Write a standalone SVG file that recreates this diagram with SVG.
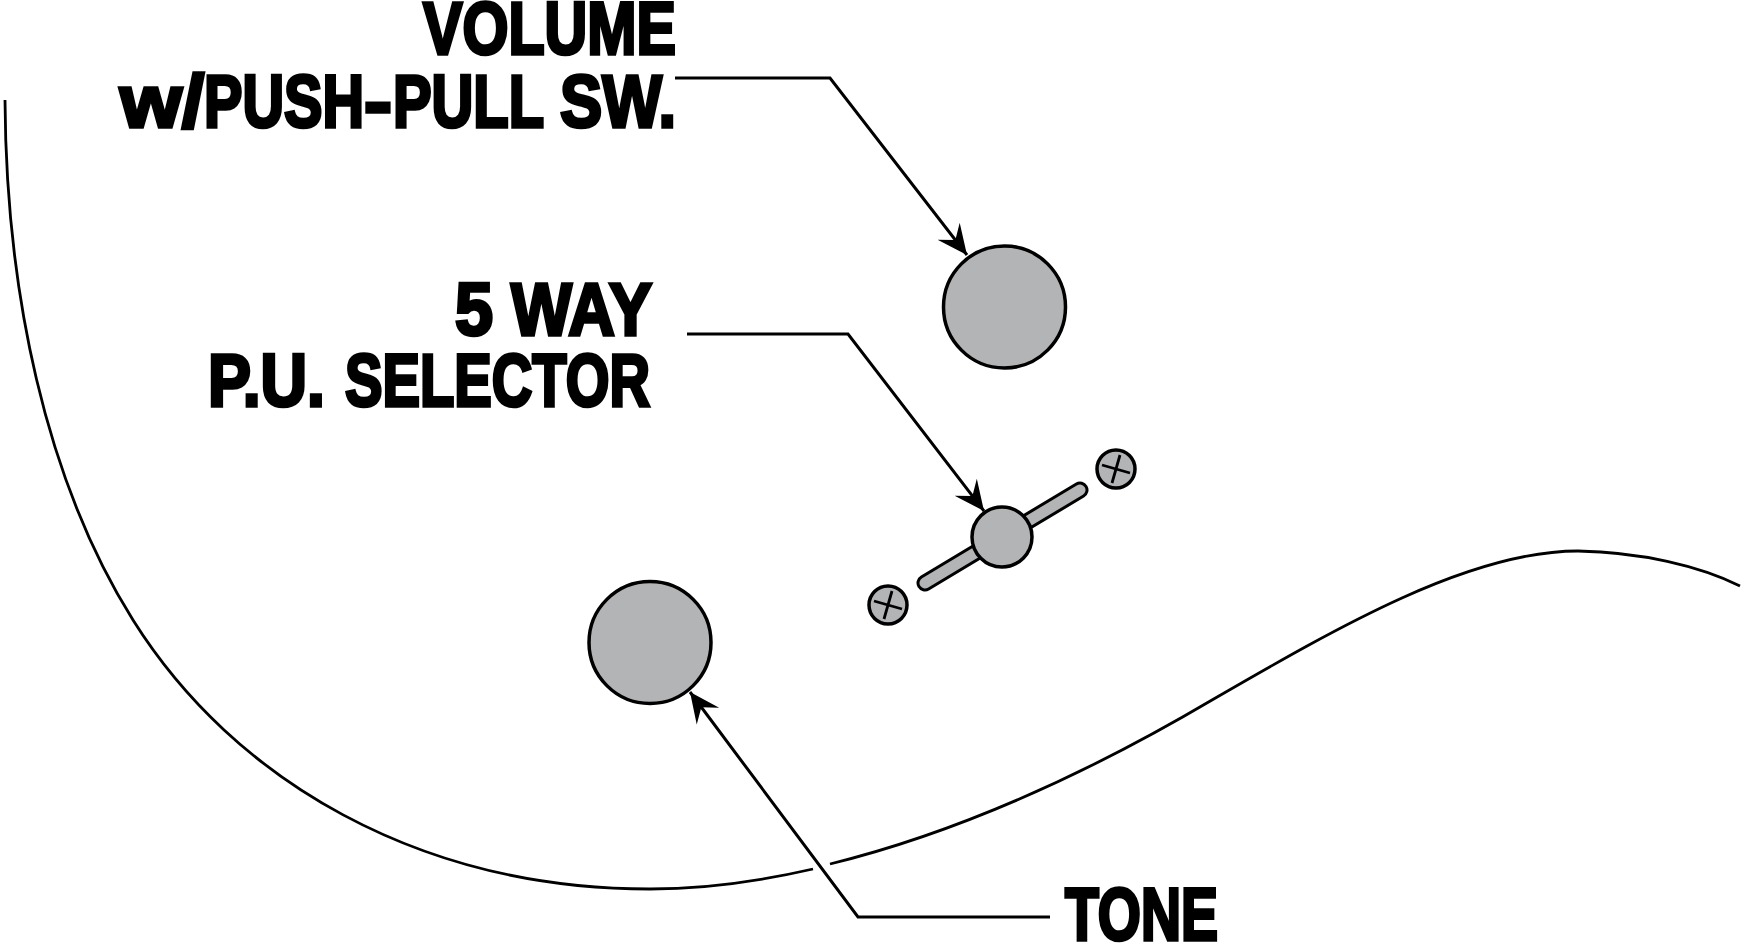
<svg xmlns="http://www.w3.org/2000/svg" width="1743" height="944" viewBox="0 0 1743 944">
<style>
.k{fill:#b3b4b6;stroke:#000;stroke-width:3.5}
.b{fill:none;stroke:#000;stroke-width:2.8}
.l{fill:none;stroke:#000;stroke-width:3}
.t{font-family:"Liberation Sans",Arial,sans-serif;font-weight:700;font-size:74px;fill:#000;stroke:#000;stroke-width:3.5;text-anchor:start}
.x{fill:none;stroke:#000;stroke-width:2.8}
</style>
<defs>
<marker id="a" markerUnits="userSpaceOnUse" markerWidth="32" markerHeight="32" refX="30" refY="15" orient="auto" viewBox="0 0 32 32"><path d="M30,15L0,1L11,15L0,29Z" fill="#000"/></marker>
</defs>
<g id="body"><path class="b" d="M5,100C6,290 45,480 133,620C234,781 420,889 650,889C705,889 765,880 813,869"/><path class="b" d="M830,864C960,832 1090,772 1212,700C1340,626 1470,551 1578,551C1640,552 1700,566 1740,586"/></g>
<g id="connectors">
<path class="l" d="M675,78H830L967,255" marker-end="url(#a)"/>
<path class="l" d="M687,334H848L984,511" marker-end="url(#a)"/>
<path class="l" d="M1050,917H858L690,692" marker-end="url(#a)"/>
</g>
<g id="volume"><circle class="k" cx="1004.5" cy="307" r="61"/><text class="t" y="54"><tspan x="423" textLength="253" lengthAdjust="spacingAndGlyphs">VOLUME</tspan></text><text class="t" y="126.5"><tspan x="120" textLength="84" lengthAdjust="spacingAndGlyphs">w/</tspan><tspan x="204" textLength="160" lengthAdjust="spacingAndGlyphs">PUSH</tspan><tspan x="364" textLength="28" lengthAdjust="spacingAndGlyphs">-</tspan><tspan x="393" textLength="150" lengthAdjust="spacingAndGlyphs">PULL</tspan> <tspan x="560" textLength="116" lengthAdjust="spacingAndGlyphs">SW.</tspan></text></g>
<g id="selector"><line x1="925" y1="583" x2="1080" y2="490" stroke="#000" stroke-width="17" stroke-linecap="round"/><line x1="925" y1="583" x2="1080" y2="490" stroke="#b3b4b6" stroke-width="11" stroke-linecap="round"/><circle class="k" cx="1002" cy="537" r="30"/><text class="t" y="334.5"><tspan x="455" textLength="38" lengthAdjust="spacingAndGlyphs">5</tspan> <tspan x="511" textLength="141" lengthAdjust="spacingAndGlyphs">WAY</tspan></text><text class="t" y="405.5"><tspan x="208" textLength="117" lengthAdjust="spacingAndGlyphs">P.U.</tspan> <tspan x="345" textLength="305" lengthAdjust="spacingAndGlyphs">SELECTOR</tspan></text></g>
<g id="screw1"><circle class="k" cx="888" cy="605" r="19"/><path class="x" d="M874,601L902,609M892,591L884,619"/></g>
<g id="screw2"><circle class="k" cx="1116" cy="469" r="19"/><path class="x" d="M1102,465L1130,473M1120,455L1112,483"/></g>
<g id="tone"><circle class="k" cx="650" cy="642.5" r="61"/><text class="t" y="940"><tspan x="1065" textLength="153" lengthAdjust="spacingAndGlyphs">TONE</tspan></text></g>
</svg>
